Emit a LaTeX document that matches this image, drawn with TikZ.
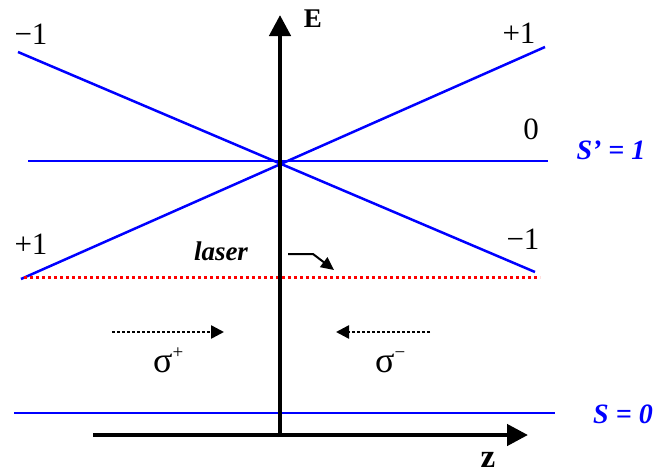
\documentclass[tikz,border=0pt]{standalone}
\usepackage{fontspec}
\setmainfont{Liberation Serif}
\usetikzlibrary{arrows.meta}
\definecolor{lblue}{RGB}{0,0,255}
\definecolor{lred}{RGB}{255,0,0}
\newcommand{\supsign}[1]{\raisebox{14pt}{\fontsize{19}{19}\selectfont #1}}
\begin{document}
\begin{tikzpicture}[x=1pt,y=-1pt,
  level/.style={draw=lblue,line width=2.5pt},
  num/.style={font=\fontsize{31}{31}\selectfont,inner sep=0pt},
  slabel/.style={text=lblue,font=\fontsize{28}{28}\selectfont\bfseries\itshape,inner sep=0pt},
  axis/.style={line width=4.5pt,-{Triangle[length=21pt,width=21pt]}},
  pol/.style={line width=2.5pt,dash pattern=on 3pt off 2pt,-{Triangle[length=13pt,width=13pt]}},
  sig/.style={font=\fontsize{36}{36}\selectfont,inner sep=0pt,anchor=base west}]
\useasboundingbox (0,0) rectangle (661,474);
% levels
\coordinate (a1) at (18,52);
\coordinate (a2) at (535,272);
\coordinate (b1) at (21,279);
\coordinate (b2) at (545,47);
\coordinate (c1) at (28,161);
\coordinate (c2) at (548,161);
\coordinate (d1) at (14,413);
\coordinate (d2) at (555,413);
\draw[level] (a1) -- (a2);
\draw[level] (b1) -- (b2);
\draw[level] (c1) -- (c2);
\draw[level] (d1) -- (d2);
% laser line
\coordinate (r1) at (24,277);
\coordinate (r2) at (540,277);
\draw[lred,line width=3pt,dash pattern=on 3pt off 3pt] (r1) -- (r2);
% axes
\coordinate (v0) at (280,437);
\coordinate (v1) at (280,15);
\coordinate (h0) at (93,435);
\coordinate (h1) at (528,435);
\draw[axis] (v0) -- (v1);
\draw[axis] (h0) -- (h1);
\node[font=\fontsize{27}{27}\selectfont\bfseries,inner sep=0pt] (E) at (313,19) {E};
\node[font=\fontsize{33}{33}\selectfont\bfseries,inner sep=0pt] (z) at (488,460) {z};
% level labels
\node[num] (m1a) at (31,34) {−1};
\node[num] (p1a) at (519,33) {+1};
\node[num] (zero) at (531,129) {0};
\node[num] (p1b) at (31,244) {+1};
\node[num] (m1b) at (523,239) {−1};
\node[slabel] (Sp) at (611,150) {S’ = 1};
\node[slabel] (S0) at (623,414) {S = 0};
% laser
\node[font=\fontsize{27}{27}\selectfont\bfseries\itshape,inner sep=0pt] (laser) at (221,251) {laser};
\coordinate (l0) at (288,254);
\coordinate (l1) at (313,254);
\coordinate (l2) at (334,270);
\draw[line width=2pt,-{Triangle[length=13pt,width=12pt]}] (l0) -- (l1) -- (l2);
% polarisations
\coordinate (sp0) at (112,332);
\coordinate (sp1) at (224,332);
\coordinate (sm0) at (430,332);
\coordinate (sm1) at (336,332);
\draw[pol] (sp0) -- (sp1);
\draw[pol] (sm0) -- (sm1);
\node[sig] (sigp) at (153,372) {σ\supsign{+}};
\node[sig] (sigm) at (375,372) {σ\supsign{−}};
\end{tikzpicture}
\end{document}
